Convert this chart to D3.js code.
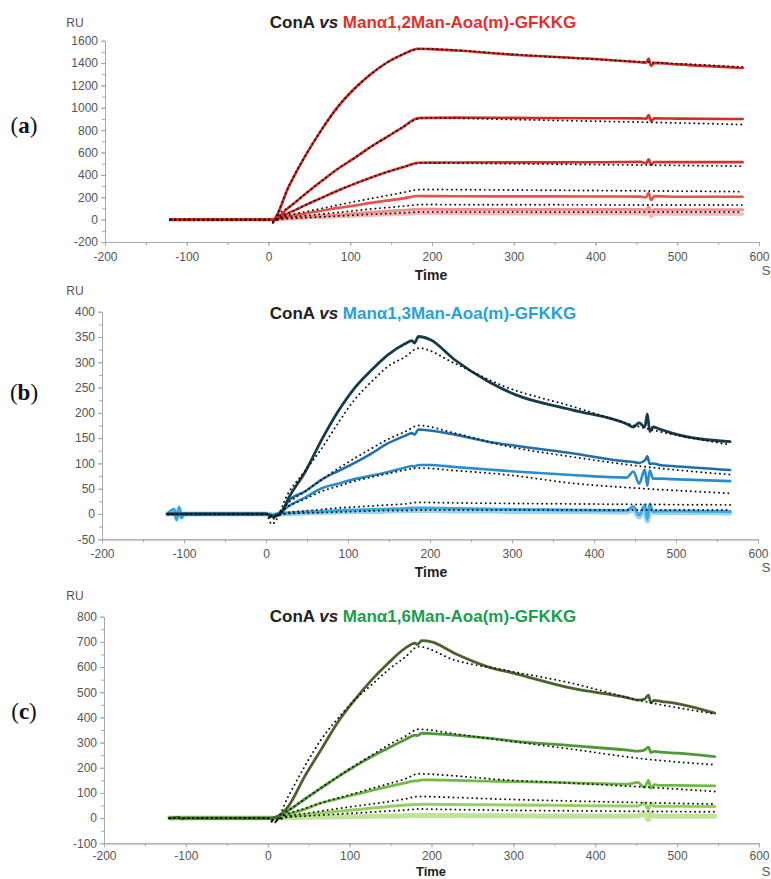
<!DOCTYPE html>
<meta charset="utf-8">
<style>
    body { margin: 0; background: #fff; }
    svg text { font-family: "Liberation Sans", Arial, sans-serif; }
    .axis text { fill: #555; font-size: 12px; }
    .axis .domain, .axis line { stroke: #a8a8a8; }
    .fit { fill: none; stroke: #111; stroke-width: 1.9; stroke-dasharray: 0.1 4.6; stroke-linecap: round; }
    .curve { fill: none; stroke-linejoin: round; stroke-linecap: round; }
</style>
<svg id="chart" width="771" height="879"></svg>
<script src="https://cdn.jsdelivr.net/npm/d3@7"></script>
<script>

// ---- panel (a): ConA vs Manα1,2 ----
var timesA = [-120, 0, 5, 25, 45, 65, 85, 105, 125, 145, 165, 183, 200, 230, 300, 400, 455, 462, 465, 468, 472, 500, 580];
var a1 = [0, 0, 0, 300, 570, 805, 1010, 1170, 1300, 1405, 1480, 1528, 1525, 1512, 1474, 1436, 1408, 1404, 1440, 1375, 1402, 1388, 1356];
var a2 = [0, 0, 0, 110, 230, 345, 455, 550, 650, 740, 830, 908, 910, 912, 910, 907, 905, 903, 935, 880, 905, 903, 900];
var a3 = [0, 0, 0, 60, 130, 195, 260, 320, 375, 425, 470, 508, 510, 511, 512, 513, 518, 505, 540, 490, 515, 514, 514];
var a4 = [0, 0, 0, 30, 55, 80, 105, 125, 150, 170, 190, 211, 210, 209, 208, 207, 206, 200, 240, 175, 210, 205, 205];
var a5 = [0, 0, 0, 12, 25, 35, 45, 55, 65, 75, 84, 92, 92, 91, 91, 90, 90, 88, 110, 70, 90, 89, 88];
var a6 = [0, 0, 0, 8, 14, 20, 27, 33, 40, 45, 50, 56, 55, 54, 53, 52, 52, 50, 70, 25, 52, 50, 50];
var fitTimesA = [-120, 0, 6, 12, 25, 45, 65, 85, 105, 125, 145, 165, 180, 190, 230, 300, 400, 500, 580];
var fa1 = [0, 0, -30, 70, 300, 570, 805, 1010, 1170, 1300, 1405, 1480, 1520, 1528, 1515, 1478, 1432, 1395, 1365];
var fa2 = [0, 0, -25, 45, 110, 230, 345, 455, 550, 650, 740, 830, 895, 910, 906, 895, 880, 865, 850];
var fa3 = [0, 0, -20, 25, 60, 130, 195, 260, 320, 375, 425, 470, 500, 508, 505, 500, 492, 485, 478];
var fa4 = [0, 0, -25, 10, 40, 70, 100, 130, 160, 188, 215, 243, 265, 270, 268, 265, 260, 255, 250];
var fa5 = [0, 0, -20, 5, 20, 35, 50, 65, 80, 95, 108, 121, 132, 135, 134, 133, 132, 131, 130];
var fa6 = [0, 0, -15, 2, 10, 17, 24, 32, 40, 47, 54, 61, 67, 69, 69, 69, 68, 68, 68];
var yTicksA = [-200, 0, 200, 400, 600, 800, 1000, 1200, 1400, 1600];

// ---- panel (b): ConA vs Manα1,3 ----
var timesB = [-120, -112, -109, -106, -103, -100, 0, 8, 19, 27, 48, 68, 88, 108, 129, 149, 170, 178, 181, 186, 200, 230, 271, 304, 373, 440, 448, 455, 462, 465, 468, 472, 480, 495, 566];
var b1 = [0, 0, 0, 0, 0, 0, 0, -5, 3, 30, 84, 147, 203, 249, 285, 315, 337, 343, 338, 351, 345, 305, 262, 236, 206, 178, 172, 180, 172, 198, 163, 172, 168, 160, 143];
var b2 = [0, 0, 0, 0, 0, 0, 0, -3, 5, 25, 45, 68, 85, 101, 120, 140, 155, 160, 157, 167, 165, 157, 143, 135, 120, 104, 103, 101, 106, 114, 99, 100, 97, 95, 87];
var b3 = [0, 0, 0, 0, 0, 0, 0, -2, 5, 15, 33, 51, 60, 69, 76, 83, 92, 95, 94, 97, 97, 93, 88, 84, 77, 72, 84, 60, 88, 56, 86, 70, 70, 69, 65];
var b4 = [0, 10, -12, 14, -8, 0, 0, -3, 1, 2, 4, 5, 7, 8, 9, 10, 11, 12, 12, 12, 12, 11, 10, 9, 8, 7, 15, -2, 18, -10, 20, 5, 6, 6, 5];
var b5 = [0, 6, -8, 9, -5, 0, 0, -2, 0, 1, 2, 3, 4, 5, 5, 6, 7, 7, 7, 7, 7, 6, 6, 5, 5, 4, 8, -6, 12, -14, 10, 3, 3, 3, 2];
var fitTimesB = [-120, 0, 7, 27, 48, 68, 88, 108, 129, 149, 170, 186, 230, 291, 373, 454, 566];
var fb1 = [0, 0, -20, 41, 86, 130, 180, 226, 262, 292, 311, 328, 298, 252, 213, 173, 137];
var fb2 = [0, 0, -10, 22, 45, 68, 90, 110, 130, 148, 163, 175, 160, 135, 113, 95, 78];
var fb3 = [0, 0, -8, 15, 30, 45, 55, 65, 73, 80, 87, 91, 86, 78, 61, 51, 41];
var fb4 = [0, 0, -5, 3, 6, 9, 12, 14, 16, 18, 20, 23, 22, 21, 20, 19, 18];
var fb5 = [0, 0, -3, 1, 2, 3, 4, 5, 6, 7, 7, 8, 8, 8, 8, 8, 8];
var yTicksB = [-50, 0, 50, 100, 150, 200, 250, 300, 350, 400];

// ---- panel (c): ConA vs Manα1,6 ----
var timesC = [-120, -108, -105, -102, 0, 5, 25, 45, 65, 86, 106, 127, 147, 168, 180, 183, 188, 200, 228, 269, 301, 371, 440, 452, 460, 465, 468, 472, 480, 500, 546];
var c1 = [0, 3, -3, 0, 0, 0, 46, 165, 271, 383, 469, 549, 615, 675, 695, 690, 705, 700, 655, 601, 575, 516, 478, 469, 472, 488, 458, 468, 464, 455, 417];
var c2 = [0, 0, 0, 0, 0, 0, 30, 75, 119, 165, 205, 245, 278, 312, 330, 328, 337, 336, 330, 318, 306, 288, 270, 266, 270, 282, 260, 265, 262, 258, 244];
var c3 = [0, 0, 0, 0, 0, 0, 15, 35, 60, 77, 93, 110, 125, 140, 148, 148, 152, 152, 150, 147, 145, 140, 135, 142, 122, 150, 118, 133, 130, 130, 128];
var c4 = [0, 0, 0, 0, 0, 0, 6, 13, 20, 27, 33, 40, 46, 52, 54, 54, 55, 55, 54, 53, 52, 50, 48, 48, 60, 35, 58, 47, 47, 47, 46];
var c5 = [0, 0, 0, 0, 0, 0, 2, 3, 4, 5, 6, 7, 8, 9, 10, 10, 10, 10, 10, 9, 9, 8, 8, 8, 16, -6, 18, 7, 7, 7, 7];
var fitTimesC = [-120, 0, 7, 25, 45, 65, 86, 106, 127, 147, 168, 184, 228, 289, 371, 452, 546];
var fc1 = [0, 0, -20, 86, 205, 311, 397, 469, 530, 588, 640, 681, 628, 588, 536, 469, 414];
var fc2 = [0, 0, -15, 30, 75, 120, 165, 208, 250, 290, 325, 353, 335, 308, 274, 238, 212];
var fc3 = [0, 0, -12, 18, 38, 60, 80, 98, 118, 136, 156, 176, 168, 152, 139, 125, 106];
var fc4 = [0, 0, -10, 8, 18, 28, 38, 47, 56, 65, 76, 86, 82, 75, 68, 62, 56];
var fc5 = [0, 0, -8, 4, 8, 12, 16, 20, 24, 28, 32, 36, 34, 31, 29, 27, 25];
var yTicksC = [-100, 0, 100, 200, 300, 400, 500, 600, 700, 800];

var xTicks = [-200, -100, 0, 100, 200, 300, 400, 500, 600];
var ligands = ["Manα1,2Man-Aoa(m)-GFKKG", "Manα1,3Man-Aoa(m)-GFKKG", "Manα1,6Man-Aoa(m)-GFKKG"];

var svg = d3.select("#chart");
var plain = function(d) { return String(d); };   // keep a plain hyphen, no thousands comma

var panels = [
    { letter: "a", ligand: ligands[0], titleColor: "#e5302a", yTicks: yTicksA,
      top: 40.7, bottom: 242, left: 105, right: 759, titleY: 28, ruY: 27, letterY: 133,
      timeY: 280, timeSize: 14, xPad: 6,
      times: timesA, series: [a6, a5, a4, a3, a2, a1],
      colors: ["#f6bbb8", "#f29290", "#ea5149", "#d8302a", "#d42c24", "#d0281f"],
      widths: [3.5, 3, 2.6, 2.6, 2.6, 2.6],
      fitTimes: fitTimesA, fits: [fa1, fa2, fa3, fa4, fa5, fa6] },
    { letter: "b", ligand: ligands[1], titleColor: "#28a0e0", yTicks: yTicksB,
      top: 311.7, bottom: 539.3, left: 102, right: 758, titleY: 319, ruY: 295, letterY: 400,
      timeY: 577, timeSize: 14, xPad: 6,
      times: timesB, series: [b5, b4, b3, b2, b1],
      colors: ["#9ad3f0", "#3aa9e0", "#2a8ccc", "#1f6eae", "#183b4a"],
      widths: [5, 3, 2.6, 2.6, 2.8],
      fitTimes: fitTimesB, fits: [fb1, fb2, fb3, fb4, fb5] },
    { letter: "c", ligand: ligands[2], titleColor: "#1d9e48", yTicks: yTicksC,
      top: 616.7, bottom: 843.3, left: 104, right: 759, titleY: 622, ruY: 600, letterY: 719,
      timeY: 876, timeSize: 13, xPad: 4,
      times: timesC, series: [c5, c4, c3, c2, c1],
      colors: ["#c2e29c", "#95d062", "#6dba44", "#4f9a36", "#4c6130"],
      widths: [5, 3, 2.8, 2.8, 2.8],
      fitTimes: fitTimesC, fits: [fc1, fc2, fc3, fc4, fc5] }
];

panels.forEach(function(p) {
    var x = d3.scaleLinear().domain([-200, 600]).range([p.left, p.right]);
    var y = d3.scaleLinear().domain([p.yTicks[0], p.yTicks[p.yTicks.length - 1]]).range([p.bottom, p.top]);
    var g = svg.append("g");

    // minor ticks (every half step)
    var yStep = p.yTicks[1] - p.yTicks[0];
    var yMinor = d3.range(p.yTicks[0], p.yTicks[p.yTicks.length - 1] + 1, yStep / 2);
    var xMinor = d3.range(-200, 601, 50);

    g.append("g").attr("class", "axis")
        .attr("transform", "translate(" + p.left + ",0)")
        .call(d3.axisLeft(y).tickValues(yMinor).tickSize(3).tickSizeOuter(0).tickFormat(""));
    g.append("g").attr("class", "axis")
        .attr("transform", "translate(" + p.left + ",0)")
        .call(d3.axisLeft(y).tickValues(p.yTicks).tickSize(4).tickSizeOuter(0).tickPadding(3).tickFormat(plain));

    g.append("g").attr("class", "axis")
        .attr("transform", "translate(0," + p.bottom + ")")
        .call(d3.axisBottom(x).tickValues(xMinor).tickSize(3).tickSizeOuter(0).tickFormat(""));
    g.append("g").attr("class", "axis")
        .attr("transform", "translate(0," + p.bottom + ")")
        .call(d3.axisBottom(x).tickValues(xTicks).tickSize(4).tickSizeOuter(0).tickPadding(p.xPad).tickFormat(plain));

    // sensorgrams
    p.series.forEach(function(s, i) {
        var line = d3.line()
            .x(function(d, j) { return x(p.times[j]); })
            .y(function(d) { return y(d); })
            .curve(d3.curveMonotoneX);
        g.append("path").attr("class", "curve")
            .attr("d", line(s))
            .attr("stroke", p.colors[i])
            .attr("stroke-width", p.widths[i]);
    });

    // fitted curves
    p.fits.forEach(function(s) {
        var line = d3.line()
            .x(function(d, j) { return x(p.fitTimes[j]); })
            .y(function(d) { return y(d); })
            .curve(d3.curveMonotoneX);
        g.append("path").attr("class", "fit").attr("d", line(s));
    });

    // labels
    g.append("text").attr("x", 75).attr("y", p.ruY)
        .attr("text-anchor", "middle").attr("font-size", 12).attr("fill", "#555").text("RU");
    g.append("text").attr("x", 431).attr("y", p.timeY)
        .attr("text-anchor", "middle").attr("font-size", p.timeSize).attr("font-weight", "bold")
        .attr("fill", "#222").text("Time");
    g.append("text").attr("x", 766).attr("y", p.bottom + 33)
        .attr("text-anchor", "middle").attr("font-size", 13).attr("fill", "#555").text("S");

    var t = g.append("text").attr("x", 423).attr("y", p.titleY)
        .attr("text-anchor", "middle").attr("font-size", 17).attr("font-weight", "bold");
    t.append("tspan").attr("fill", "#222").text("ConA ");
    t.append("tspan").attr("fill", "#222").attr("font-style", "italic").text("vs");
    t.append("tspan").attr("fill", p.titleColor).text(" " + p.ligand);

    var L = g.append("text").attr("x", 24).attr("y", p.letterY)
        .attr("text-anchor", "middle").attr("font-size", 23)
        .style("font-family", "'Liberation Serif', 'Times New Roman', serif").attr("fill", "#111");
    L.append("tspan").text("(");
    L.append("tspan").attr("font-weight", "bold").text(p.letter);
    L.append("tspan").text(")");
});

</script>
